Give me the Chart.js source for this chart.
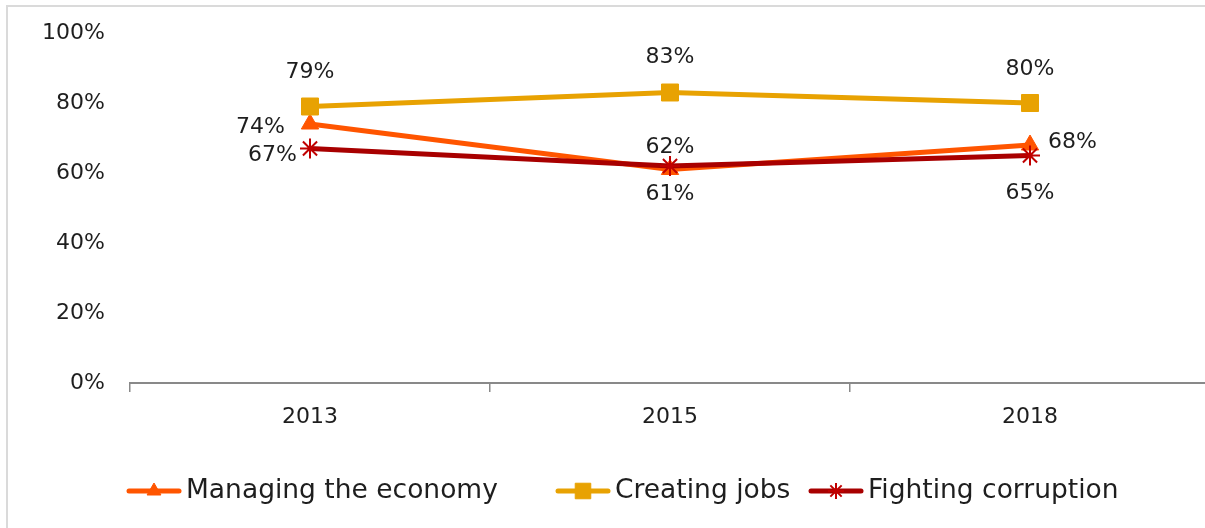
<!DOCTYPE html>
<html>
<head>
<meta charset="utf-8">
<script src="https://cdn.jsdelivr.net/npm/chart.js"></script>
<style>
  html, body { margin: 0; padding: 0; background: #fff; overflow: hidden; }
  #wrap { position: relative; width: 1205px; height: 528px; overflow: hidden; background: #fff; }
  #frame { position: absolute; left: 6px; top: 5px; width: 2000px; height: 2000px;
           border-left: 2px solid #dadada; border-top: 2px solid #dadada; pointer-events: none; }
  canvas { position: absolute; left: 0; top: 0; }
</style>
</head>
<body>
<div id="wrap">
  <canvas id="c" width="1240" height="528"></canvas>
  <div id="frame"></div>
</div>
<script>
// ---- data ----
const years = ['2013', '2015', '2018'];
const seriesNames = ['Managing the economy', 'Creating jobs', 'Fighting corruption'];
const managing = [74, 61, 68];
const jobs = [79, 83, 80];
const corruption = [67, 62, 65];
const yTickValues = [0, 20, 40, 60, 80, 100];

// ---- style / placement ----
const FONT = "'DejaVu Sans', sans-serif";
const TEXT = '#1e1e1e';
// [textAlign, dx, dy] relative to the point
const labelPlacement = [
  [['right', -25, 3], ['center', 0, 25], ['left', 18, -3]],
  [['center', 0, -34], ['center', 0, -35], ['center', 0, -34]],
  [['right', -13, 7], ['center', 0, -19], ['center', 0, 38]]
];
const legendItemX = [126, 555, 808];
const legendY = 491;
const legendLineLen = 56;
const legendRadius = [8, 11, 8];

const dataLabelsPlugin = {
  id: 'dataLabels',
  afterDatasetsDraw(chart) {
    const ctx = chart.ctx;
    ctx.save();
    ctx.font = '22px ' + FONT;
    ctx.fillStyle = TEXT;
    ctx.textBaseline = 'middle';
    chart.data.datasets.forEach((ds, i) => {
      const meta = chart.getDatasetMeta(i);
      meta.data.forEach((pt, j) => {
        const [align, dx, dy] = labelPlacement[i][j];
        ctx.textAlign = align;
        ctx.fillText(ds.data[j] + '%', pt.x + dx, pt.y + dy);
      });
    });
    ctx.restore();
  }
};

const legendPlugin = {
  id: 'customLegend',
  afterDraw(chart) {
    const ctx = chart.ctx;
    ctx.save();
    chart.data.datasets.forEach((ds, i) => {
      const x0 = legendItemX[i];
      ctx.strokeStyle = ds.borderColor;
      ctx.lineWidth = 5;
      ctx.lineCap = 'round';
      ctx.beginPath();
      ctx.moveTo(x0 + 3, legendY);
      ctx.lineTo(x0 + legendLineLen - 3, legendY);
      ctx.stroke();
      ctx.lineCap = 'butt';
      ctx.fillStyle = ds.pointBackgroundColor;
      ctx.strokeStyle = ds.pointBorderColor;
      ctx.lineWidth = ds.pointBorderWidth;
      Chart.helpers.drawPoint(ctx, {
        pointStyle: ds.pointStyle, radius: legendRadius[i],
        borderWidth: ds.pointBorderWidth, rotation: 0
      }, x0 + legendLineLen / 2, legendY);
      ctx.fillStyle = TEXT;
      ctx.font = '26.5px ' + FONT;
      ctx.textAlign = 'left';
      ctx.textBaseline = 'middle';
      ctx.fillText(ds.label, x0 + legendLineLen + 4, legendY);
    });
    ctx.restore();
  }
};

new Chart(document.getElementById('c'), {
  type: 'line',
  data: {
    labels: years,
    datasets: [
      {
        label: seriesNames[0], data: managing, order: 2,
        borderColor: '#FF5500', borderWidth: 5,
        pointStyle: 'triangle', pointRadius: 10,
        pointBackgroundColor: '#FF5500', pointBorderColor: '#FF5500', pointBorderWidth: 1,
        tension: 0, clip: false
      },
      {
        label: seriesNames[1], data: jobs, order: 1,
        borderColor: '#E8A202', borderWidth: 5,
        pointStyle: 'rect', pointRadius: 12,
        pointBackgroundColor: '#E8A202', pointBorderColor: '#E8A202', pointBorderWidth: 1,
        tension: 0, clip: false
      },
      {
        label: seriesNames[2], data: corruption, order: 0,
        borderColor: '#A80000', borderWidth: 5,
        pointStyle: 'star', pointRadius: 10,
        pointBackgroundColor: '#C00000', pointBorderColor: '#C00000', pointBorderWidth: 2,
        tension: 0, clip: false
      }
    ]
  },
  options: {
    responsive: false,
    animation: false,
    devicePixelRatio: 1,
    events: [],
    layout: { padding: { left: 5, right: 30, top: 33, bottom: 95 } },
    plugins: { legend: { display: false }, tooltip: { enabled: false } },
    scales: {
      x: {
        offset: true,
        grid: { display: true, offset: true, drawOnChartArea: false, drawTicks: true,
                tickLength: 9, color: '#898989', lineWidth: 1.5 },
        border: { display: true, color: '#898989', width: 2 },
        ticks: { font: { family: FONT, size: 22 }, color: TEXT, padding: 12 },
        afterFit(s) { s.height = 50; }
      },
      y: {
        min: yTickValues[0], max: yTickValues[yTickValues.length - 1],
        afterBuildTicks(s) { s.ticks = yTickValues.map(v => ({ value: v })); },
        grid: { display: true, drawOnChartArea: false, drawTicks: true,
                tickLength: 21, color: 'rgba(0,0,0,0)' },
        border: { display: false },
        ticks: { font: { family: FONT, size: 22 }, color: TEXT, padding: 4,
                 callback: v => v + '%' },
        afterFit(s) { s.width = 125; }
      }
    }
  },
  plugins: [dataLabelsPlugin, legendPlugin]
});
</script>
</body>
</html>
